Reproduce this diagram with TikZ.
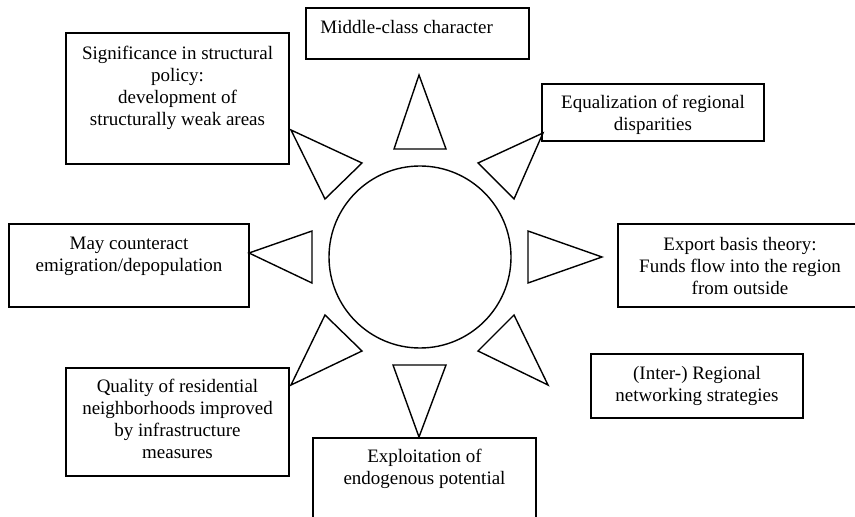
\documentclass[tikz,border=0pt]{standalone}
\usepackage{fontspec}
\setmainfont{Liberation Serif}
\usetikzlibrary{fit}
\begin{document}
\begin{tikzpicture}[x=0.5pt,y=-0.5pt,
  box/.style={draw, line width=0.7pt, inner sep=0pt},
  lbl/.style={inner sep=0pt, align=center, font=\fontsize{9.5pt}{10.9pt}\selectfont, anchor=north},
  tri/.style={draw, line width=0.7pt, line join=miter},
  hub/.style={draw, circle, line width=0.7pt, inner sep=0pt, minimum size=91pt}]
\useasboundingbox (0,0) rectangle (855,517);
\clip (0,0) rectangle (855,517);

% boxes
\node[box, fit={(306,8) (529,59)}] (b1) {};
\node[box, fit={(66,33) (289,164)}] (b2) {};
\node[box, fit={(542,84) (764,141)}] (b3) {};
\node[box, fit={(9,224) (249,307)}] (b4) {};
\node[box, fit={(618,224) (870,307)}] (b5) {};
\node[box, fit={(591,354) (803,418)}] (b6) {};
\node[box, fit={(66,368) (289,476)}] (b7) {};
\node[box, fit={(313,438) (536,540)}] (b8) {};

% texts
\node[lbl, anchor=north west] (t1) at (320,20) {Middle-class character};
\node[lbl] (t2) at (177.5,46) {Significance in structural\\policy:\\development of\\structurally weak areas};
\node[lbl] (t3) at (653,95) {Equalization of regional\\disparities};
\node[lbl] (t4) at (129,237) {May counteract\\emigration/depopulation};
\node[lbl] (t5) at (740,237) {Export basis theory:\\Funds flow into the region\\from outside};
\node[lbl] (t6) at (697,366) {(Inter-) Regional\\networking strategies};
\node[lbl] (t7) at (177.5,379) {Quality of residential\\neighborhoods improved\\by infrastructure\\measures};
\node[lbl] (t8) at (424.5,449) {Exploitation of\\endogenous potential};

% hub
\node[hub] (c) at (420,257) {};

% triangles
\draw[tri] (419,75) -- (394,149) -- (446,149) -- cycle;
\draw[tri] (291,130) -- (362,163) -- (325,199) -- cycle;
\draw[tri] (543,133) -- (478,163) -- (514,199) -- cycle;
\draw[tri] (249,253) -- (312,231) -- (312,283) -- cycle;
\draw[tri] (602,257) -- (528,231) -- (528,283) -- cycle;
\draw[tri] (291,385) -- (325,315) -- (362,351) -- cycle;
\draw[tri] (548,385) -- (514,315) -- (478,351) -- cycle;
\draw[tri] (419,437) -- (393,365) -- (446,365) -- cycle;
\end{tikzpicture}
\end{document}
